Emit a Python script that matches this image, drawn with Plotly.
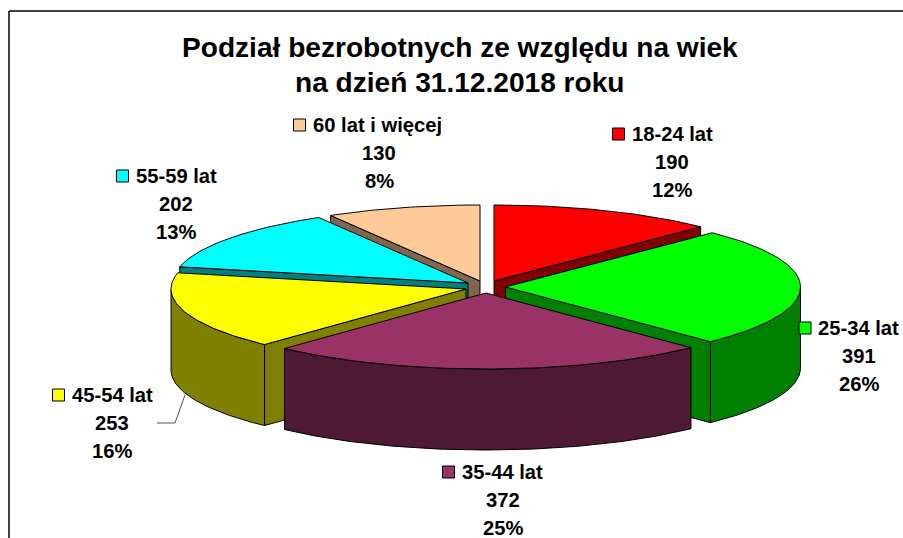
import numpy as np
import plotly.graph_objects as go

categories = ["18-24 lat", "25-34 lat", "35-44 lat", "45-54 lat", "55-59 lat", "60 lat i więcej"]
values = [190, 391, 372, 253, 202, 130]
percents = ["12%", "26%", "25%", "16%", "13%", "8%"]
top_colors = ["#FF0000", "#00FF00", "#993366", "#FFFF00", "#00FFFF", "#FFCC99"]
side_colors = ["#800000", "#008000", "#4D1933", "#808000", "#008080", "#80664D"]
title_lines = ["Podział bezrobotnych ze względu na wiek", "na dzień 31.12.2018 roku"]

# pie geometry, in page pixels
apex_x = [494, 505.5, 486, 466, 468, 480]
apex_y = [281, 287, 293, 289, 283, 281]
RX, RY, DEPTH = 295, 76, 81
draw_order = [5, 0, 4, 3, 1, 2]

# label layout: text centre x, first-line y, key centre x
label_x = [672, 859, 503, 112, 176, 379]
label_y = [134, 328, 472, 395, 176, 125]
key_x = [618.5, 805, 448.5, 58.5, 122.5, 299.5]
LINE_STEP = 28.2

fractions = np.array(values) / sum(values)
edges = np.concatenate([[0], np.cumsum(fractions)]) * 2 * np.pi

fig = go.Figure()


def poly(xs, ys, fill, name):
    fig.add_trace(go.Scatter(
        x=list(xs) + [xs[0]], y=list(ys) + [ys[0]], mode="lines", fill="toself",
        fillcolor=fill, line=dict(color="#000000", width=1), name=name,
        hoverinfo="name", showlegend=False))


for i in draw_order:
    a, b = edges[i], edges[i + 1]
    cx, cy = apex_x[i], apex_y[i]
    theta = np.linspace(a, b, max(3, int(np.degrees(b - a))))
    rim_x = cx + RX * np.sin(theta)
    rim_y = cy - RY * np.cos(theta)
    # cut walls that face the viewer
    for ang, visible in ((a, np.sin(a) < 0), (b, np.sin(b) > 0)):
        if visible:
            ex, ey = cx + RX * np.sin(ang), cy - RY * np.cos(ang)
            poly([cx, ex, ex, cx], [cy, ey, ey + DEPTH, cy + DEPTH], side_colors[i], categories[i])
    # outer wall: the front half of the rim
    front = np.cos(theta) <= 0
    if front.sum() > 1:
        fx, fy = rim_x[front], rim_y[front]
        poly(np.concatenate([fx, fx[::-1]]), np.concatenate([fy, fy[::-1] + DEPTH]),
             side_colors[i], categories[i])
    poly(np.concatenate([[cx], rim_x]), np.concatenate([[cy], rim_y]), top_colors[i], categories[i])

# legend keys
fig.add_trace(go.Scatter(
    x=key_x, y=label_y, mode="markers", showlegend=False, hoverinfo="skip",
    marker=dict(symbol="square", size=12, color=top_colors, line=dict(color="#000000", width=1))))

# leader line of 45-54 lat
fig.add_trace(go.Scatter(
    x=[157, 175, 185], y=[423, 423, 395], mode="lines", showlegend=False, hoverinfo="skip",
    line=dict(color="#505050", width=1)))

FONT = "Liberation Sans, Arial, sans-serif"
annotations = []
for i, cat in enumerate(categories):
    lines = [cat, str(values[i]), percents[i]]
    for j, txt in enumerate(lines):
        annotations.append(dict(
            x=label_x[i] if j else (key_x[i] + 11), y=label_y[i] + j * LINE_STEP,
            xanchor="center" if j else "left", yanchor="middle", text=f"<b>{txt}</b>",
            showarrow=False, font=dict(family=FONT, size=20.2, color="#000000")))
for j, txt in enumerate(title_lines):
    annotations.append(dict(
        x=459.5, y=47 + j * 35, xanchor="center", yanchor="middle", text=f"<b>{txt}</b>",
        showarrow=False, font=dict(family=FONT, size=28.1, color="#000000")))

shapes = [
    dict(type="line", x0=9, x1=903, y0=11, y1=11, line=dict(color="#000000", width=1.5)),
    dict(type="line", x0=9, x1=9, y0=11, y1=538, line=dict(color="#000000", width=1.5)),
]

fig.update_layout(
    width=903, height=538, margin=dict(l=0, r=0, t=0, b=0),
    paper_bgcolor="#FFFFFF", plot_bgcolor="#FFFFFF", showlegend=False,
    xaxis=dict(range=[0, 903], visible=False, fixedrange=True),
    yaxis=dict(range=[538, 0], visible=False, fixedrange=True),
    annotations=annotations, shapes=shapes)

fig.write_html("out.html", config={"displayModeBar": False},
               post_script="document.body.style.margin='0';document.body.style.overflow='hidden';")
